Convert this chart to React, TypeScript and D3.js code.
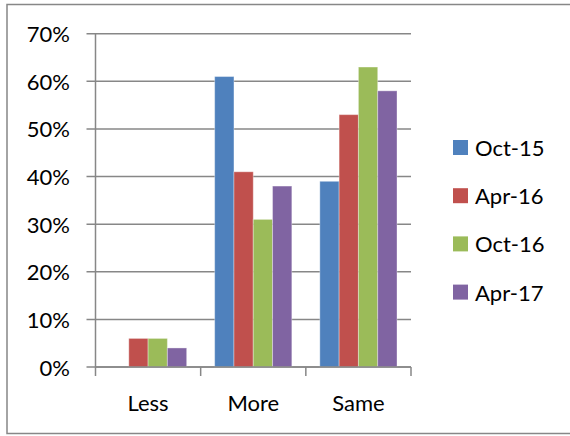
import React from "react";
import * as d3 from "d3";

const categories = ["Less", "More", "Same"];
const seriesNames = ["Oct-15", "Apr-16", "Oct-16", "Apr-17"];
const oct15 = [0, 61, 39];
const apr16 = [6, 41, 53];
const oct16 = [6, 31, 63];
const apr17 = [4, 38, 58];
const yTicks = [0, 10, 20, 30, 40, 50, 60, 70];
const colors = ["#4F81BD", "#C0504D", "#9BBB59", "#8064A2"];

const seriesValues = [oct15, apr16, oct16, apr17];

export default function App() {
  const W = 570;
  const H = 436;
  const left = 95.5;
  const right = 411;
  const top = 33.7;
  const bottom = 367;
  const font = "Lato, 'Liberation Sans', sans-serif";
  const fs = 22;

  const x0 = d3.scaleBand<string>().domain(categories).range([left, right]).padding(0);
  const inset = 14;
  const x1 = d3
    .scaleBand<string>()
    .domain(seriesNames)
    .range([inset, x0.bandwidth() - inset])
    .padding(0);
  const y = d3.scaleLinear().domain([0, 70]).range([bottom, top]);
  const grid = "#878787";

  const boundaries = categories.map((c) => x0(c) as number).concat([right]);

  return (
    <svg
      width={W}
      height={H}
      style={{ position: "absolute", left: 0, top: 0, background: "#fff" }}
      fontFamily={font}
    >
      <rect x={7} y={4.5} width={W + 10} height={429} fill="#fff" stroke={grid} strokeWidth={1.5} />
      {yTicks.map((t) => (
        <g key={t}>
          <line x1={left - 9} x2={right} y1={y(t)} y2={y(t)} stroke={grid} strokeWidth={1.5} />
          <text
            x={70}
            y={y(t)}
            textAnchor="end"
            dominantBaseline="central"
            fontSize={fs}
            fill="#000"
          >
            {t + "%"}
          </text>
        </g>
      ))}
      {categories.map((c, ci) => (
        <g key={c}>
          {seriesNames.map((s, si) => {
            const v = seriesValues[si][ci];
            if (!v) return null;
            const bx = (x0(c) as number) + (x1(s) as number);
            return (
              <rect
                key={s}
                x={bx}
                y={y(v)}
                width={x1.bandwidth()}
                height={bottom - y(v)}
                fill={colors[si]}
                stroke="#ffffff"
                strokeOpacity={0.35}
                strokeWidth={1}
              />
            );
          })}
          <text
            x={(x0(c) as number) + x0.bandwidth() / 2}
            y={402}
            textAnchor="middle"
            dominantBaseline="central"
            fontSize={fs}
            fill="#000"
          >
            {c}
          </text>
        </g>
      ))}
      <line x1={left} x2={left} y1={top} y2={bottom} stroke={grid} strokeWidth={1.5} />
      <line x1={left} x2={right} y1={bottom} y2={bottom} stroke={grid} strokeWidth={1.5} />
      {boundaries.map((b, i) => (
        <line key={i} x1={b} x2={b} y1={bottom} y2={bottom + 9} stroke={grid} strokeWidth={1.5} />
      ))}
      {seriesNames.map((s, i) => {
        const cy = 147.5 + i * 48.2;
        return (
          <g key={s}>
            <rect x={453} y={cy - 7.5} width={15} height={15} fill={colors[i]} />
            <text x={475} y={cy} dominantBaseline="central" fontSize={fs} fill="#000">
              {s}
            </text>
          </g>
        );
      })}
    </svg>
  );
}
